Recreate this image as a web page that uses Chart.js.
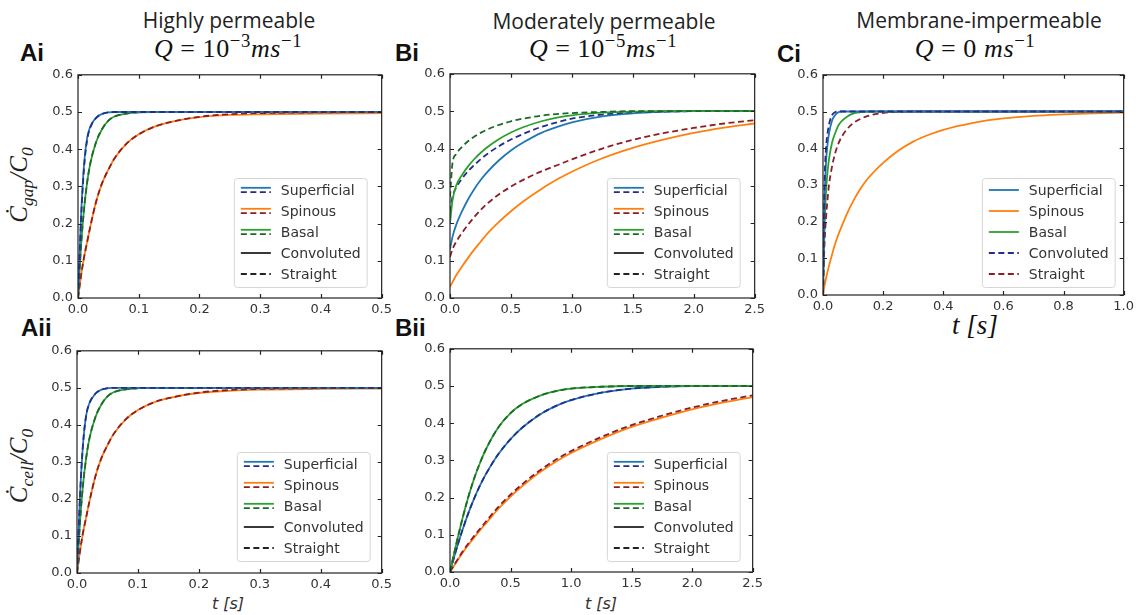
<!DOCTYPE html>
<html>
<head>
<meta charset="utf-8">
<script src="https://cdn.jsdelivr.net/npm/chart.js@4.4.1/dist/chart.umd.min.js"></script>
<style>
  body { margin: 0; width: 1141px; height: 615px; background: #fff; position: relative; overflow: hidden; }
  .panel { position: absolute; }
  .title { position: absolute; transform: translate(-50%, -50%); font-family: "Open Sans", sans-serif; font-size: 21px; color: #222; white-space: nowrap; }
  .math { position: absolute; transform: translate(-50%, -50%); font-family: "Liberation Serif", serif; font-size: 26px; letter-spacing: 0.6px; color: #111; white-space: nowrap; }
  .math .sup { font-size: 0.72em; position: relative; top: -0.55em; }
  .math .eq { margin: 0 7px; }
  .tag { position: absolute; transform: translate(0, -50%); font-family: "Liberation Sans", Arial, sans-serif; font-weight: bold; font-size: 24px; color: #111; }
  .ylab { position: absolute; transform: translate(-50%, -50%) rotate(-90deg); font-family: "Liberation Serif", serif; font-style: italic; font-size: 25px; color: #222; white-space: nowrap; }
  .ylab sub { font-size: 0.7em; }
  .xlab { position: absolute; transform: translate(-50%, -50%); font-family: "DejaVu Sans", sans-serif; font-style: italic; font-size: 16px; color: #333; white-space: nowrap; }
  .xlab.big { font-family: "Liberation Serif", serif; font-size: 27px; color: #111; }
</style>
</head>
<body>

<div class="title" style="left:229px; top:20px;">Highly permeable</div>
<div class="title" style="left:604px; top:21px;">Moderately permeable</div>
<div class="title" style="left:979px; top:20px;">Membrane-impermeable</div>

<div class="math" style="left:228px; top:49px;"><i>Q</i><span class="eq">=</span>10<span class="sup">−3</span><i>ms</i><span class="sup">−1</span></div>
<div class="math" style="left:603px; top:49px;"><i>Q</i><span class="eq">=</span>10<span class="sup">−5</span><i>ms</i><span class="sup">−1</span></div>
<div class="math" style="left:975px; top:49px;"><i>Q</i><span class="eq">=</span>0 <i>ms</i><span class="sup">−1</span></div>

<div class="tag" style="left:20px; top:53px;">Ai</div>
<div class="tag" style="left:395px; top:53px;">Bi</div>
<div class="tag" style="left:777px; top:54px;">Ci</div>
<div class="tag" style="left:21px; top:328px;">Aii</div>
<div class="tag" style="left:395px; top:328px;">Bii</div>

<div class="ylab" style="left:21px; top:185px;">Ċ<sub>gap</sub>/C<sub>0</sub></div>
<div class="ylab" style="left:21px; top:466px;">Ċ<sub>cell</sub>/C<sub>0</sub></div>

<div class="xlab big" style="left:975px; top:325px;">t [s]</div>
<div class="xlab" style="left:228px; top:603px;">t [s]</div>
<div class="xlab" style="left:601px; top:603px;">t [s]</div>

<script>
// ---- data ----
// Ai : gap concentration, Q = 1e-3
const aiTime = [0, 0.005, 0.01, 0.015, 0.02, 0.03, 0.04, 0.05, 0.06, 0.08, 0.1, 0.125, 0.15, 0.2, 0.25, 0.3, 0.4, 0.5];
const aiSupConv   = [0, 0.22, 0.36, 0.43, 0.46, 0.485, 0.495, 0.499, 0.5, 0.5, 0.5, 0.5, 0.5, 0.5, 0.5, 0.5, 0.5, 0.5];
const aiSupStr    = [0, 0.21, 0.35, 0.425, 0.457, 0.484, 0.495, 0.499, 0.5, 0.5, 0.5, 0.5, 0.5, 0.5, 0.5, 0.5, 0.5, 0.5];
const aiSpinConv  = [0, 0.06, 0.11, 0.15, 0.19, 0.26, 0.31, 0.345, 0.375, 0.415, 0.44, 0.46, 0.472, 0.486, 0.492, 0.494, 0.496, 0.497];
const aiSpinStr   = [0, 0.06, 0.11, 0.15, 0.19, 0.26, 0.31, 0.345, 0.375, 0.415, 0.44, 0.46, 0.472, 0.487, 0.494, 0.497, 0.499, 0.5];
const aiBasConv   = [0, 0.14, 0.24, 0.31, 0.36, 0.42, 0.455, 0.477, 0.488, 0.496, 0.499, 0.5, 0.5, 0.5, 0.5, 0.5, 0.5, 0.5];
const aiBasStr    = [0, 0.14, 0.24, 0.31, 0.36, 0.42, 0.455, 0.477, 0.488, 0.496, 0.499, 0.5, 0.5, 0.5, 0.5, 0.5, 0.5, 0.5];

// Bi : gap concentration, Q = 1e-5
const biTime = [0, 0.02, 0.05, 0.1, 0.15, 0.2, 0.25, 0.3, 0.4, 0.5, 0.6, 0.75, 0.9, 1.0, 1.25, 1.5, 1.75, 2.0, 2.25, 2.5];
const biSupConv   = [0.13, 0.163, 0.195, 0.233, 0.265, 0.292, 0.315, 0.335, 0.368, 0.395, 0.416, 0.442, 0.46, 0.47, 0.486, 0.494, 0.498, 0.5, 0.5, 0.5];
const biSupStr    = [0.23, 0.27, 0.295, 0.32, 0.34, 0.356, 0.371, 0.384, 0.406, 0.424, 0.439, 0.458, 0.472, 0.48, 0.491, 0.497, 0.499, 0.5, 0.5, 0.5];
const biSpinConv  = [0.03, 0.042, 0.06, 0.085, 0.108, 0.13, 0.15, 0.17, 0.203, 0.232, 0.258, 0.292, 0.321, 0.338, 0.374, 0.402, 0.424, 0.442, 0.456, 0.467];
const biSpinStr   = [0.11, 0.13, 0.15, 0.175, 0.197, 0.217, 0.235, 0.251, 0.277, 0.298, 0.316, 0.339, 0.358, 0.371, 0.4, 0.423, 0.441, 0.455, 0.467, 0.476];
const biBasConv   = [0.20, 0.26, 0.30, 0.33, 0.353, 0.372, 0.388, 0.402, 0.425, 0.443, 0.457, 0.473, 0.484, 0.489, 0.496, 0.499, 0.5, 0.5, 0.5, 0.5];
const biBasStr    = [0.27, 0.36, 0.385, 0.405, 0.42, 0.432, 0.442, 0.45, 0.463, 0.473, 0.48, 0.488, 0.493, 0.495, 0.498, 0.5, 0.5, 0.5, 0.5, 0.5];

// Ci : gap concentration, Q = 0
const ciTime = [0, 0.005, 0.01, 0.015, 0.02, 0.03, 0.04, 0.05, 0.06, 0.08, 0.1, 0.125, 0.15, 0.2, 0.25, 0.3, 0.35, 0.4, 0.5, 0.6, 0.7, 0.8, 0.9, 1.0];
const ciSuperficial = [0, 0.25, 0.36, 0.41, 0.44, 0.475, 0.49, 0.497, 0.5, 0.5, 0.5, 0.5, 0.5, 0.5, 0.5, 0.5, 0.5, 0.5, 0.5, 0.5, 0.5, 0.5, 0.5, 0.5];
const ciSpinous     = [0, 0.025, 0.045, 0.063, 0.08, 0.11, 0.138, 0.162, 0.183, 0.222, 0.255, 0.29, 0.318, 0.36, 0.393, 0.418, 0.436, 0.45, 0.469, 0.481, 0.488, 0.492, 0.495, 0.497];
const ciBasal       = [0, 0.18, 0.28, 0.335, 0.37, 0.415, 0.44, 0.46, 0.472, 0.486, 0.494, 0.498, 0.5, 0.5, 0.5, 0.5, 0.5, 0.5, 0.5, 0.5, 0.5, 0.5, 0.5, 0.5];
const ciConvoluted  = [0, 0.30, 0.40, 0.44, 0.465, 0.49, 0.498, 0.5, 0.5, 0.5, 0.5, 0.5, 0.5, 0.5, 0.5, 0.5, 0.5, 0.5, 0.5, 0.5, 0.5, 0.5, 0.5, 0.5];
const ciStraight    = [0, 0.14, 0.21, 0.26, 0.30, 0.35, 0.385, 0.41, 0.428, 0.452, 0.468, 0.48, 0.488, 0.496, 0.499, 0.5, 0.5, 0.5, 0.5, 0.5, 0.5, 0.5, 0.5, 0.5];

// Aii : cell concentration, Q = 1e-3
const aiiTime = [0, 0.005, 0.01, 0.015, 0.02, 0.03, 0.04, 0.05, 0.06, 0.08, 0.1, 0.125, 0.15, 0.2, 0.25, 0.3, 0.4, 0.5];
const aiiSupConv  = [0, 0.21, 0.35, 0.425, 0.457, 0.484, 0.495, 0.499, 0.5, 0.5, 0.5, 0.5, 0.5, 0.5, 0.5, 0.5, 0.5, 0.5];
const aiiSupStr   = [0, 0.21, 0.35, 0.425, 0.457, 0.484, 0.495, 0.499, 0.5, 0.5, 0.5, 0.5, 0.5, 0.5, 0.5, 0.5, 0.5, 0.5];
const aiiSpinConv = [0, 0.06, 0.11, 0.15, 0.19, 0.26, 0.31, 0.345, 0.375, 0.415, 0.44, 0.46, 0.472, 0.486, 0.492, 0.495, 0.497, 0.498];
const aiiSpinStr  = [0, 0.06, 0.11, 0.15, 0.19, 0.26, 0.31, 0.345, 0.375, 0.415, 0.44, 0.46, 0.472, 0.487, 0.494, 0.497, 0.499, 0.5];
const aiiBasConv  = [0, 0.14, 0.24, 0.31, 0.36, 0.42, 0.455, 0.477, 0.488, 0.496, 0.499, 0.5, 0.5, 0.5, 0.5, 0.5, 0.5, 0.5];
const aiiBasStr   = [0, 0.14, 0.24, 0.31, 0.36, 0.42, 0.455, 0.477, 0.488, 0.496, 0.499, 0.5, 0.5, 0.5, 0.5, 0.5, 0.5, 0.5];

// Bii : cell concentration, Q = 1e-5
const biiTime = [0, 0.02, 0.05, 0.1, 0.15, 0.2, 0.25, 0.3, 0.4, 0.5, 0.6, 0.75, 0.9, 1.0, 1.25, 1.5, 1.75, 2.0, 2.25, 2.5];
const biiSupConv  = [0, 0.024, 0.058, 0.11, 0.157, 0.198, 0.234, 0.265, 0.317, 0.357, 0.389, 0.425, 0.45, 0.462, 0.482, 0.493, 0.498, 0.5, 0.5, 0.5];
const biiSupStr   = [0, 0.024, 0.058, 0.11, 0.157, 0.198, 0.234, 0.265, 0.317, 0.357, 0.389, 0.425, 0.45, 0.462, 0.482, 0.493, 0.498, 0.5, 0.5, 0.5];
const biiSpinConv = [0, 0.01, 0.025, 0.05, 0.072, 0.093, 0.113, 0.132, 0.17, 0.203, 0.232, 0.27, 0.302, 0.32, 0.358, 0.39, 0.415, 0.437, 0.455, 0.47];
const biiSpinStr  = [0, 0.011, 0.027, 0.053, 0.076, 0.097, 0.117, 0.137, 0.175, 0.208, 0.237, 0.275, 0.307, 0.325, 0.363, 0.395, 0.42, 0.442, 0.46, 0.475];
const biiBasConv  = [0, 0.03, 0.073, 0.14, 0.2, 0.252, 0.295, 0.332, 0.389, 0.427, 0.452, 0.475, 0.488, 0.493, 0.498, 0.5, 0.5, 0.5, 0.5, 0.5];
const biiBasStr   = [0, 0.03, 0.073, 0.14, 0.2, 0.252, 0.295, 0.332, 0.389, 0.427, 0.452, 0.475, 0.488, 0.493, 0.498, 0.5, 0.5, 0.5, 0.5, 0.5];

const yTicksMax = 0.6;
const legendLabels = ['Superficial', 'Spinous', 'Basal', 'Convoluted', 'Straight'];

// ---- colours ----
const BLUE = '#1f77b4', NAVY = '#232e8c';
const ORANGE = '#ff7f0e', DARKRED = '#8e1c26';
const GREEN = '#2ca02c', DARKGREEN = '#1c6a2a';
const DASH = [6, 3.5];

function line(t, v, color, dash) {
  return {
    data: t.map((x, i) => ({ x: x, y: v[i] })),
    borderColor: color,
    borderWidth: 1.8,
    borderDash: dash || [],
    pointRadius: 0,
    fill: false,
    cubicInterpolationMode: 'monotone'
  };
}

// frame + inward ticks on all four sides
const frameTicks = {
  id: 'frameTicks',
  afterDatasetsDraw(chart) {
    const { ctx, chartArea: a, scales: { x, y } } = chart;
    ctx.save();
    ctx.strokeStyle = '#222';
    ctx.lineWidth = 1.2;
    ctx.strokeRect(a.left, a.top, a.right - a.left, a.bottom - a.top);
    ctx.beginPath();
    x.ticks.forEach(t => {
      const px = Math.round(x.getPixelForValue(t.value)) + 0.5;
      ctx.moveTo(px, a.bottom); ctx.lineTo(px, a.bottom - 4);
      ctx.moveTo(px, a.top); ctx.lineTo(px, a.top + 4);
    });
    y.ticks.forEach(t => {
      const py = Math.round(y.getPixelForValue(t.value)) + 0.5;
      ctx.moveTo(a.left, py); ctx.lineTo(a.left + 4, py);
      ctx.moveTo(a.right, py); ctx.lineTo(a.right - 4, py);
    });
    ctx.stroke();
    ctx.restore();
  }
};

// boxed legend inside the plot, lower right
const boxLegend = {
  id: 'boxLegend',
  afterDraw(chart, args, opts) {
    const { ctx, chartArea: a } = chart;
    ctx.save();
    ctx.font = '14px "DejaVu Sans"';
    const textW = Math.max(...opts.items.map(it => ctx.measureText(it.label).width));
    const w = 7 + 30 + 10 + textW + 6;
    const h = 12 + 21 * (opts.items.length - 1) + 13;
    const x0 = a.right - opts.right - w, y0 = a.bottom - opts.bottom - h;
    ctx.fillStyle = 'rgba(255,255,255,0.85)';
    ctx.strokeStyle = '#d6d6d6';
    ctx.lineWidth = 1;
    ctx.beginPath();
    ctx.roundRect(x0 + 0.5, y0 + 0.5, w, h, 3);
    ctx.fill();
    ctx.stroke();
    opts.items.forEach((it, i) => {
      const yy = y0 + 12 + i * 21;
      const offs = it.lines.length > 1 ? [-2.2, 2.2] : [0];
      it.lines.forEach((ln, j) => {
        ctx.strokeStyle = ln.color;
        ctx.lineWidth = 1.8;
        ctx.setLineDash(ln.dash || []);
        ctx.beginPath();
        ctx.moveTo(x0 + 7, yy + offs[j]);
        ctx.lineTo(x0 + 37, yy + offs[j]);
        ctx.stroke();
      });
      ctx.setLineDash([]);
      ctx.fillStyle = '#333';
      ctx.textBaseline = 'middle';
      ctx.fillText(it.label, x0 + 47, yy + 1);
    });
    ctx.restore();
  }
};

const pairedLegend = [
  { label: legendLabels[0], lines: [{ color: BLUE }, { color: NAVY, dash: DASH }] },
  { label: legendLabels[1], lines: [{ color: ORANGE }, { color: DARKRED, dash: DASH }] },
  { label: legendLabels[2], lines: [{ color: GREEN }, { color: DARKGREEN, dash: DASH }] },
  { label: legendLabels[3], lines: [{ color: '#222' }] },
  { label: legendLabels[4], lines: [{ color: '#222', dash: DASH }] }
];
const plainLegend = [
  { label: legendLabels[0], lines: [{ color: BLUE }] },
  { label: legendLabels[1], lines: [{ color: ORANGE }] },
  { label: legendLabels[2], lines: [{ color: GREEN }] },
  { label: legendLabels[3], lines: [{ color: NAVY, dash: DASH }] },
  { label: legendLabels[4], lines: [{ color: DARKRED, dash: DASH }] }
];

const YW = 50, XH = 24, PT = 10, PR = 14;

// datasets are listed top-most first (Chart.js paints index 0 last)
function makePanel(plot, xMax, xStep, datasets, legendItems, lr, lb) {
  const div = document.createElement('div');
  div.className = 'panel';
  div.style.left = (plot.l - YW) + 'px';
  div.style.top = (plot.t - PT) + 'px';
  const cv = document.createElement('canvas');
  cv.width = plot.r - plot.l + YW + PR;
  cv.height = plot.b - plot.t + PT + XH;
  div.appendChild(cv);
  document.body.appendChild(div);
  const tickFont = { family: '"DejaVu Sans"', size: 13 };
  new Chart(cv, {
    type: 'line',
    data: { datasets: datasets },
    options: {
      responsive: false,
      animation: false,
      layout: { padding: { left: 0, right: PR, top: PT, bottom: 0 } },
      plugins: { legend: { display: false }, tooltip: { enabled: false },
        boxLegend: { items: legendItems, right: lr, bottom: lb } },
      scales: {
        x: {
          type: 'linear', min: 0, max: xMax,
          grid: { display: false, drawTicks: false }, border: { display: false },
          ticks: { stepSize: xStep, padding: 4, maxRotation: 0, autoSkip: false, color: '#333', font: tickFont,
            callback: v => v.toFixed(1) },
          afterFit: s => { s.height = XH; }
        },
        y: {
          min: 0, max: yTicksMax,
          grid: { display: false, drawTicks: false }, border: { display: false },
          ticks: { stepSize: 0.1, padding: 5, color: '#333', font: tickFont, callback: v => v.toFixed(1) },
          afterFit: s => { s.width = YW; }
        }
      }
    },
    plugins: [frameTicks, boxLegend]
  });
}

makePanel({ l: 78, t: 72, r: 382, b: 298 }, 0.5, 0.1, [
  line(aiTime, aiSupStr, NAVY, DASH), line(aiTime, aiSupConv, BLUE),
  line(aiTime, aiBasStr, DARKGREEN, DASH), line(aiTime, aiBasConv, GREEN),
  line(aiTime, aiSpinStr, DARKRED, DASH), line(aiTime, aiSpinConv, ORANGE)
], pairedLegend, 15, 11);

makePanel({ l: 450, t: 71, r: 755, b: 298 }, 2.5, 0.5, [
  line(biTime, biBasStr, DARKGREEN, DASH), line(biTime, biBasConv, GREEN),
  line(biTime, biSupStr, NAVY, DASH), line(biTime, biSupConv, BLUE),
  line(biTime, biSpinStr, DARKRED, DASH), line(biTime, biSpinConv, ORANGE)
], pairedLegend, 15, 11);

makePanel({ l: 823, t: 72, r: 1124, b: 295 }, 1.0, 0.2, [
  line(ciTime, ciConvoluted, NAVY, DASH),
  line(ciTime, ciSuperficial, BLUE),
  line(ciTime, ciStraight, DARKRED, DASH),
  line(ciTime, ciBasal, GREEN),
  line(ciTime, ciSpinous, ORANGE)
], plainLegend, 9, 8);

makePanel({ l: 77, t: 348, r: 382, b: 573 }, 0.5, 0.1, [
  line(aiiTime, aiiSupStr, NAVY, DASH), line(aiiTime, aiiSupConv, BLUE),
  line(aiiTime, aiiBasStr, DARKGREEN, DASH), line(aiiTime, aiiBasConv, GREEN),
  line(aiiTime, aiiSpinStr, DARKRED, DASH), line(aiiTime, aiiSpinConv, ORANGE)
], pairedLegend, 12, 12);

makePanel({ l: 450, t: 346, r: 753, b: 572 }, 2.5, 0.5, [
  line(biiTime, biiBasStr, DARKGREEN, DASH), line(biiTime, biiBasConv, GREEN),
  line(biiTime, biiSupStr, NAVY, DASH), line(biiTime, biiSupConv, BLUE),
  line(biiTime, biiSpinStr, DARKRED, DASH), line(biiTime, biiSpinConv, ORANGE)
], pairedLegend, 13, 11);
</script>
</body>
</html>
